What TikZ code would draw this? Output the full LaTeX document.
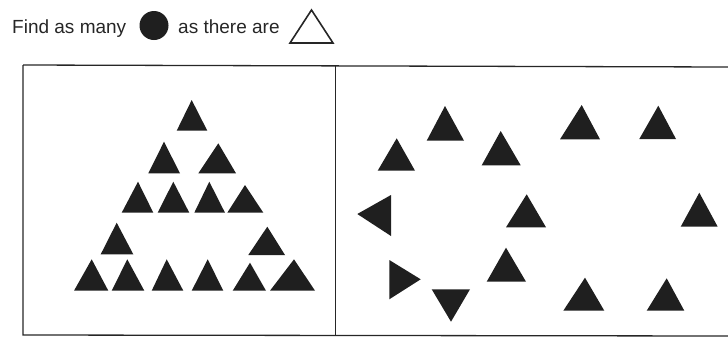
\documentclass[tikz,border=0pt]{standalone}
\usepackage{fontspec}
\setmainfont{Liberation Sans}
\begin{document}
\begin{tikzpicture}[x=1pt,y=-1pt,
  solid tri/.style={fill=black!88},
  frame/.style={draw=black!85,line width=1.3pt},
  caption/.style={font=\fontsize{19}{22}\selectfont,text=black!85,inner sep=0pt}]
\useasboundingbox (0,0) rectangle (728,338);
% instruction line
\node[caption,anchor=base west] (t1) at (12,33) {Find as many};
\fill[black!88] (154,25.5) circle (14.5);
\node[caption,anchor=base west] (t2) at (178,33) {as there are};
\draw[black!85,line width=1.6pt,line join=miter] (290,43) -- (333,43) -- (311.5,10) -- cycle;
% frame
\draw[frame] (23,65) -- (728,67) (23,65) -- (23,335) -- (728,336);
\draw[frame] (335.5,65.5) -- (335.5,335.5);
% left panel
\fill[solid tri] (176.7,130.7) -- (207.3,130.7) -- (191.7,100) -- cycle;
\fill[solid tri] (148.3,173.3) -- (180,173.3) -- (164,141.7) -- cycle;
\fill[solid tri] (198.3,173.3) -- (236,173.3) -- (218.3,143.3) -- cycle;
\fill[solid tri] (121.7,212.7) -- (153.3,212.7) -- (138,181.7) -- cycle;
\fill[solid tri] (157.7,212.7) -- (189.3,212.7) -- (173.3,181.7) -- cycle;
\fill[solid tri] (194.3,212.7) -- (225,212.7) -- (209.3,181.7) -- cycle;
\fill[solid tri] (227.3,212.7) -- (263.3,212.7) -- (245,185) -- cycle;
\fill[solid tri] (100.7,254.3) -- (133.3,254.3) -- (116.7,222.7) -- cycle;
\fill[solid tri] (248.3,255) -- (285,255) -- (267.3,226.7) -- cycle;
\fill[solid tri] (74,290.7) -- (108.3,290.7) -- (91.7,259.3) -- cycle;
\fill[solid tri] (111.7,290.7) -- (144.3,290.7) -- (127.3,259.3) -- cycle;
\fill[solid tri] (151.7,290.7) -- (183.3,290.7) -- (166.7,259.3) -- cycle;
\fill[solid tri] (191.7,290.7) -- (223.3,290.7) -- (207.7,259.3) -- cycle;
\fill[solid tri] (232.7,290.7) -- (266,290.7) -- (250,262.7) -- cycle;
\fill[solid tri] (270,290.7) -- (315,290.7) -- (294,259.3) -- cycle;
% right panel
\fill[solid tri] (426.7,140.7) -- (464,140.7) -- (445,106) -- cycle;
\fill[solid tri] (377.7,170.7) -- (415,170.7) -- (396.7,138.3) -- cycle;
\fill[solid tri] (481.7,165.3) -- (520.7,165.3) -- (500.7,131) -- cycle;
\fill[solid tri] (560,139.3) -- (600,139.3) -- (581.7,105) -- cycle;
\fill[solid tri] (639.3,139) -- (676,139) -- (658.3,105.7) -- cycle;
\fill[solid tri] (391,195) -- (391,236) -- (357.3,214) -- cycle;
\fill[solid tri] (506,227.3) -- (546,227.3) -- (526.7,194.3) -- cycle;
\fill[solid tri] (680.7,226.7) -- (717.7,226.7) -- (699.3,192.7) -- cycle;
\fill[solid tri] (389.3,260) -- (389.3,299.3) -- (420.7,279.3) -- cycle;
\fill[solid tri] (431.7,289.3) -- (470,289.3) -- (451,321.7) -- cycle;
\fill[solid tri] (486.7,281.7) -- (526,281.7) -- (506,247.7) -- cycle;
\fill[solid tri] (563.3,310.7) -- (604.3,310.7) -- (585,277.7) -- cycle;
\fill[solid tri] (646.7,310.7) -- (684.3,310.7) -- (666.7,278.3) -- cycle;
\end{tikzpicture}
\end{document}
